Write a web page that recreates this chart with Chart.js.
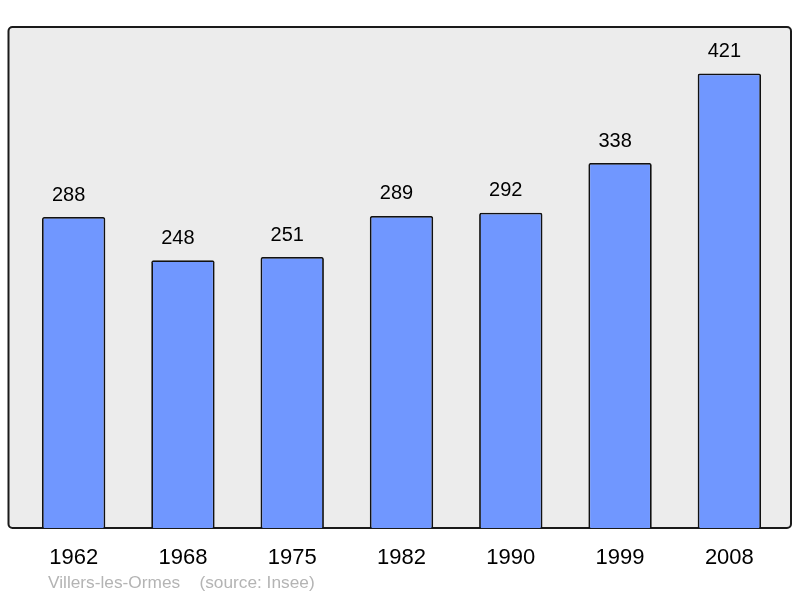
<!DOCTYPE html>
<html>
<head>
  <meta charset="UTF-8">
  <title>Villers-les-Ormes population</title>
  <script src="https://cdn.jsdelivr.net/npm/chart.js"></script>
  <style>
    body { margin: 0; background: #fff; }
    .chart-container { width: 800px; height: 598px; position: relative; }
  </style>
</head>
<body>
  <div class="chart-container">
    <canvas id="mainChart"></canvas>
  </div>
  <script>
    const years = ['1962', '1968', '1975', '1982', '1990', '1999', '2008'];
    const population = [288, 248, 251, 289, 292, 338, 421];
    const footerText = 'Villers-les-Ormes    (source: Insee)';

    // grey framed plot background
    const framePlugin = {
      id: 'frame',
      beforeDraw(chart) {
        const ctx = chart.ctx;
        const a = chart.chartArea;
        ctx.save();
        ctx.beginPath();
        ctx.roundRect(a.left - 10.5, a.top, (a.right + 7) - (a.left - 10.5), a.bottom - a.top, 4);
        ctx.fillStyle = '#ececec';
        ctx.fill();
        ctx.lineWidth = 2;
        ctx.strokeStyle = '#1a1a1a';
        ctx.stroke();
        ctx.restore();
      },
      afterDraw(chart) {
        const ctx = chart.ctx;
        ctx.save();
        ctx.font = '17.3px "Liberation Sans", Arial, sans-serif';
        ctx.fillStyle = '#b4b4b4';
        ctx.textBaseline = 'middle';
        ctx.fillText(footerText, 48, 583);
        ctx.restore();
      }
    };

    // numbers above the bars
    const valueLabels = {
      id: 'valueLabels',
      afterDatasetsDraw(chart) {
        const ctx = chart.ctx;
        const meta = chart.getDatasetMeta(0);
        ctx.save();
        ctx.font = '20px "Liberation Sans", Arial, sans-serif';
        ctx.fillStyle = '#000';
        ctx.textAlign = 'center';
        ctx.textBaseline = 'middle';
        meta.data.forEach((bar, i) => {
          ctx.fillText(population[i], bar.x - 5, bar.y - 22);
        });
        ctx.restore();
      }
    };

    new Chart(document.getElementById('mainChart'), {
      type: 'bar',
      data: {
        labels: years,
        datasets: [{
          data: population,
          backgroundColor: '#7097ff',
          borderColor: '#111',
          borderWidth: 1.8,
          borderSkipped: 'bottom',
          borderRadius: 2,
          barPercentage: 0.58,
          categoryPercentage: 1
        }]
      },
      options: {
        responsive: true,
        maintainAspectRatio: false,
        animation: false,
        layout: { padding: { left: 19, right: 16, top: 27, bottom: 20 } },
        plugins: {
          legend: { display: false },
          tooltip: { enabled: false }
        },
        scales: {
          x: {
            grid: { display: false, drawTicks: false },
            border: { display: false },
            ticks: {
              color: '#000',
              padding: 17,
              font: { size: 22, family: '"Liberation Sans", Arial, sans-serif' }
            },
            afterFit(scale) { scale.height = 50; }
          },
          y: {
            display: false,
            min: 0,
            max: 464
          }
        }
      },
      plugins: [framePlugin, valueLabels]
    });
  </script>
</body>
</html>
